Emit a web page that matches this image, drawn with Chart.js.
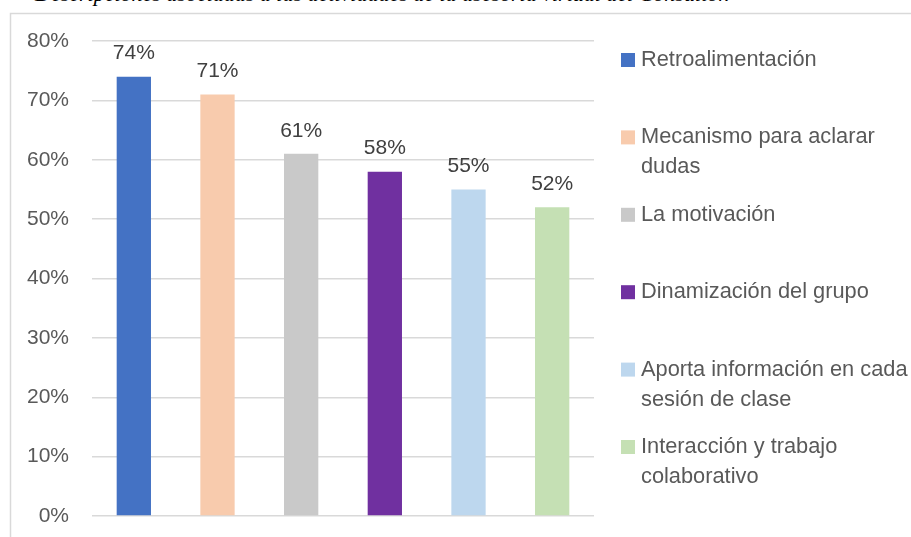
<!DOCTYPE html>
<html>
<head>
<meta charset="utf-8">
<script src="https://cdn.jsdelivr.net/npm/chart.js@4"></script>
<style>
  html, body { margin: 0; padding: 0; background: #fff; overflow: hidden; }
  #wrap { position: relative; width: 911px; height: 537px; }
  #cap { position: absolute; left: 35px; top: -19px; font-family: "Liberation Serif", serif; font-style: italic; font-size: 22px; color: #000; white-space: nowrap; }
  canvas { position: absolute; left: 0; top: 0; }
</style>
</head>
<body>
<div id="wrap">
  <div id="cap">Descripciones asociadas a las actividades de la asesoría virtual del Consultor.</div>
  <canvas id="c" width="911" height="537"></canvas>
</div>
<script>
const categories = ["Retroalimentación", "Mecanismo para aclarar dudas", "La motivación", "Dinamización del grupo", "Aporta información en cada sesión de clase", "Interacción y trabajo colaborativo"];
const values = [74, 71, 61, 58, 55, 52];
const colors = ["#4472C4", "#F8CBAD", "#C9C9C9", "#7030A0", "#BDD7EE", "#C5E0B4"];
const yTicks = [0, 10, 20, 30, 40, 50, 60, 70, 80];

const FONT = '"Liberation Sans", Arial, sans-serif';
const TEXT = '#595959';

const framePlugin = {
  id: 'frame',
  beforeDraw(chart) {
    const ctx = chart.ctx;
    ctx.save();
    ctx.strokeStyle = '#d9d9d9';
    ctx.lineWidth = 1.5;
    ctx.strokeRect(10.5, 13.5, 1200, 1200);
    ctx.restore();
  }
};

const labelsPlugin = {
  id: 'valueLabels',
  afterDatasetsDraw(chart) {
    const ctx = chart.ctx;
    const meta = chart.getDatasetMeta(0);
    ctx.save();
    ctx.font = '21px ' + FONT;
    ctx.fillStyle = '#404040';
    ctx.textAlign = 'center';
    ctx.textBaseline = 'middle';
    meta.data.forEach((bar, i) => {
      ctx.fillText(values[i] + '%', bar.x, bar.y - 23);
    });
    ctx.restore();
  }
};

const legendPlugin = {
  id: 'sideLegend',
  afterDraw(chart) {
    const ctx = chart.ctx;
    const area = chart.chartArea;
    const boxX = area.right + 27;
    const textX = boxX + 20;
    const maxW = 275;
    ctx.save();
    ctx.font = '21.8px ' + FONT;
    ctx.textBaseline = 'middle';
    ctx.textAlign = 'left';
    categories.forEach((cat, i) => {
      const y0 = area.top + 19 + i * 77.4;
      const words = cat.split(' ');
      const lines = [];
      let cur = '';
      words.forEach(w => {
        const t = cur ? cur + ' ' + w : w;
        if (ctx.measureText(t).width > maxW && cur) { lines.push(cur); cur = w; }
        else cur = t;
      });
      if (cur) lines.push(cur);
      ctx.fillStyle = colors[i];
      ctx.fillRect(boxX, y0 - 7, 14, 14);
      ctx.fillStyle = TEXT;
      lines.forEach((ln, k) => ctx.fillText(ln, textX, y0 + k * 30));
    });
    ctx.restore();
  }
};

new Chart(document.getElementById('c'), {
  type: 'bar',
  data: {
    labels: categories,
    datasets: [{
      data: values,
      backgroundColor: colors,
      borderWidth: 0,
      barPercentage: 0.41,
      categoryPercentage: 1.0
    }]
  },
  options: {
    responsive: false,
    animation: false,
    events: [],
    layout: { padding: { left: 0, right: 317, top: 41, bottom: 21 } },
    plugins: { legend: { display: false }, tooltip: { enabled: false }, title: { display: false } },
    scales: {
      x: { display: false },
      y: {
        min: 0, max: 80,
        afterFit(scale) { scale.width = 92; },
        afterBuildTicks(scale) { scale.ticks = yTicks.map(v => ({ value: v })); },
        grid: { color: '#d9d9d9', lineWidth: 1.5, drawTicks: true, tickLength: 20, tickColor: 'rgba(0,0,0,0)' },
        border: { display: false },
        ticks: {
          padding: 3,
          color: TEXT,
          font: { family: FONT, size: 21 },
          callback: v => v + '%'
        }
      }
    }
  },
  plugins: [framePlugin, labelsPlugin, legendPlugin]
});
</script>
</body>
</html>
